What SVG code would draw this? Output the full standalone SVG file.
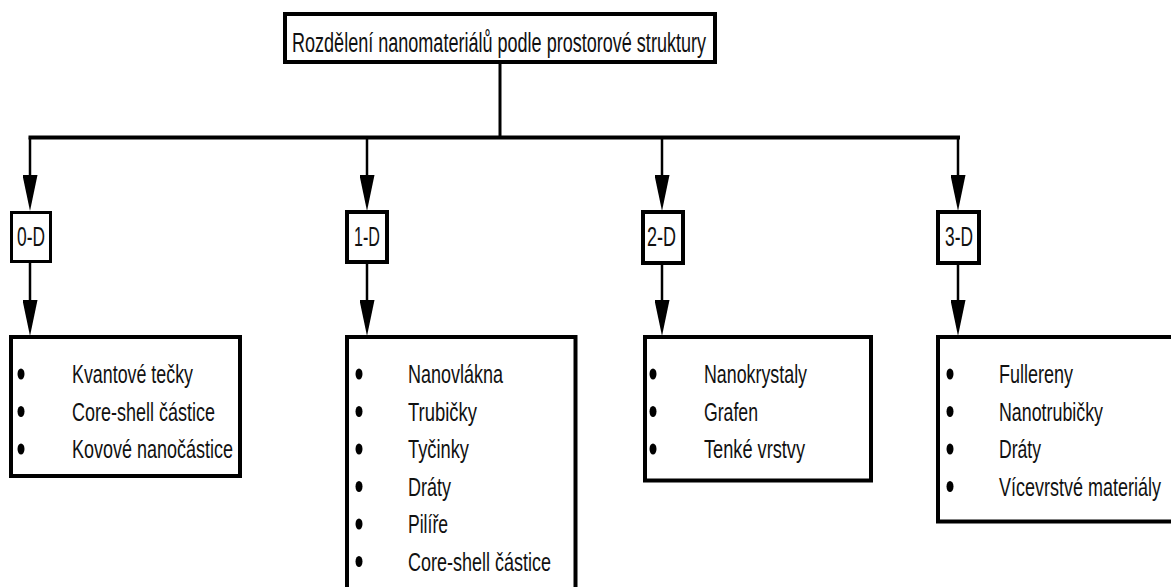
<svg xmlns="http://www.w3.org/2000/svg" width="1171" height="587" viewBox="0 0 1171 587">
  <style>
    .box { fill: #ffffff; stroke: #000000; stroke-width: 4; }
    .thin { stroke-width: 3; }
    .wire { fill: none; stroke: #000000; stroke-width: 2.5; }
    .bus { fill: none; stroke: #000000; stroke-width: 4; }
    text { font-family: "Liberation Sans", Arial, sans-serif; fill: #111111; }
    .title { font-size: 27px; }
    .dim { font-size: 28px; }
    .item { font-size: 26.5px; }
    .dot { fill: #000000; }
  </style>
  <defs>
    <marker id="arrow" viewBox="0 0 36 15" refX="0" refY="7.5" markerWidth="36" markerHeight="15" markerUnits="userSpaceOnUse" orient="auto">
      <path d="M0,0 L36,7.5 L0,15 Z" fill="#000000"/>
    </marker>
  </defs>

  <!-- connectors -->
  <g id="connectors">
    <path class="wire" d="M500,64 V137.5" style="stroke-width:3"/>
    <path class="bus" d="M28.5,137.5 H960"/>
    <path class="wire" d="M30,137.5 V175" marker-end="url(#arrow)"/>
    <path class="wire" d="M367,137.5 V175" marker-end="url(#arrow)"/>
    <path class="wire" d="M662,137.5 V175" marker-end="url(#arrow)"/>
    <path class="wire" d="M958,137.5 V175" marker-end="url(#arrow)"/>
    <path class="wire" d="M30,263 V300" marker-end="url(#arrow)"/>
    <path class="wire" d="M367,264 V300" marker-end="url(#arrow)"/>
    <path class="wire" d="M662,264 V300" marker-end="url(#arrow)"/>
    <path class="wire" d="M958,264 V300" marker-end="url(#arrow)"/>
  </g>

  <!-- root -->
  <g id="root">
    <rect class="box" x="285" y="14" width="430" height="48"/>
    <text class="title" x="292" y="51.5" textLength="414" lengthAdjust="spacingAndGlyphs">Rozdělení nanomateriálů podle prostorové struktury</text>
  </g>

  <!-- dimension nodes -->
  <g id="dim0">
    <rect class="box thin" x="11.5" y="212.5" width="39" height="49"/>
    <text class="dim" x="17" y="246" textLength="28" lengthAdjust="spacingAndGlyphs">0-D</text>
  </g>
  <g id="dim1">
    <rect class="box" x="347" y="212" width="40" height="50"/>
    <text class="dim" x="354" y="246" textLength="26" lengthAdjust="spacingAndGlyphs">1-D</text>
  </g>
  <g id="dim2">
    <rect class="box" x="643" y="212" width="40" height="51"/>
    <text class="dim" x="647" y="246" textLength="29" lengthAdjust="spacingAndGlyphs">2-D</text>
  </g>
  <g id="dim3">
    <rect class="box" x="938" y="212" width="41" height="51"/>
    <text class="dim" x="945" y="246" textLength="28" lengthAdjust="spacingAndGlyphs">3-D</text>
  </g>

  <!-- lists -->
  <g id="list0">
    <rect class="box" x="11" y="337" width="229" height="139"/>
    <ellipse class="dot" cx="21" cy="374" rx="3.5" ry="5.5"/>
    <ellipse class="dot" cx="21" cy="411.5" rx="3.5" ry="5.5"/>
    <ellipse class="dot" cx="21" cy="449" rx="3.5" ry="5.5"/>
    <text class="item" x="72" y="383" textLength="121" lengthAdjust="spacingAndGlyphs">Kvantové tečky</text>
    <text class="item" x="72" y="420.5" textLength="143" lengthAdjust="spacingAndGlyphs">Core-shell částice</text>
    <text class="item" x="72" y="458" textLength="161" lengthAdjust="spacingAndGlyphs">Kovové nanočástice</text>
  </g>

  <g id="list1">
    <rect class="box" x="347" y="337" width="228.5" height="300"/>
    <ellipse class="dot" cx="359" cy="374" rx="3.5" ry="5.5"/>
    <ellipse class="dot" cx="359" cy="411.5" rx="3.5" ry="5.5"/>
    <ellipse class="dot" cx="359" cy="449" rx="3.5" ry="5.5"/>
    <ellipse class="dot" cx="359" cy="486.5" rx="3.5" ry="5.5"/>
    <ellipse class="dot" cx="359" cy="524" rx="3.5" ry="5.5"/>
    <ellipse class="dot" cx="359" cy="561.5" rx="3.5" ry="5.5"/>
    <text class="item" x="408" y="383" textLength="95" lengthAdjust="spacingAndGlyphs">Nanovlákna</text>
    <text class="item" x="408" y="420.5" textLength="69" lengthAdjust="spacingAndGlyphs">Trubičky</text>
    <text class="item" x="408" y="458" textLength="61" lengthAdjust="spacingAndGlyphs">Tyčinky</text>
    <text class="item" x="408" y="495.5" textLength="43" lengthAdjust="spacingAndGlyphs">Dráty</text>
    <text class="item" x="408" y="533" textLength="40" lengthAdjust="spacingAndGlyphs">Pilíře</text>
    <text class="item" x="408" y="570.5" textLength="143" lengthAdjust="spacingAndGlyphs">Core-shell částice</text>
  </g>

  <g id="list2">
    <rect class="box" x="645" y="337" width="226" height="143.5"/>
    <ellipse class="dot" cx="653" cy="374" rx="3.5" ry="5.5"/>
    <ellipse class="dot" cx="653" cy="411.5" rx="3.5" ry="5.5"/>
    <ellipse class="dot" cx="653" cy="449" rx="3.5" ry="5.5"/>
    <text class="item" x="704" y="383" textLength="103" lengthAdjust="spacingAndGlyphs">Nanokrystaly</text>
    <text class="item" x="704" y="420.5" textLength="54" lengthAdjust="spacingAndGlyphs">Grafen</text>
    <text class="item" x="704" y="458" textLength="101" lengthAdjust="spacingAndGlyphs">Tenké vrstvy</text>
  </g>

  <g id="list3">
    <rect class="box" x="938" y="337" width="260" height="184.5"/>
    <ellipse class="dot" cx="950" cy="374" rx="3.5" ry="5.5"/>
    <ellipse class="dot" cx="950" cy="411.5" rx="3.5" ry="5.5"/>
    <ellipse class="dot" cx="950" cy="449" rx="3.5" ry="5.5"/>
    <ellipse class="dot" cx="950" cy="486.5" rx="3.5" ry="5.5"/>
    <text class="item" x="999" y="383" textLength="74" lengthAdjust="spacingAndGlyphs">Fullereny</text>
    <text class="item" x="999" y="420.5" textLength="104" lengthAdjust="spacingAndGlyphs">Nanotrubičky</text>
    <text class="item" x="999" y="458" textLength="42" lengthAdjust="spacingAndGlyphs">Dráty</text>
    <text class="item" x="999" y="495.5" textLength="162" lengthAdjust="spacingAndGlyphs">Vícevrstvé materiály</text>
  </g>
</svg>
